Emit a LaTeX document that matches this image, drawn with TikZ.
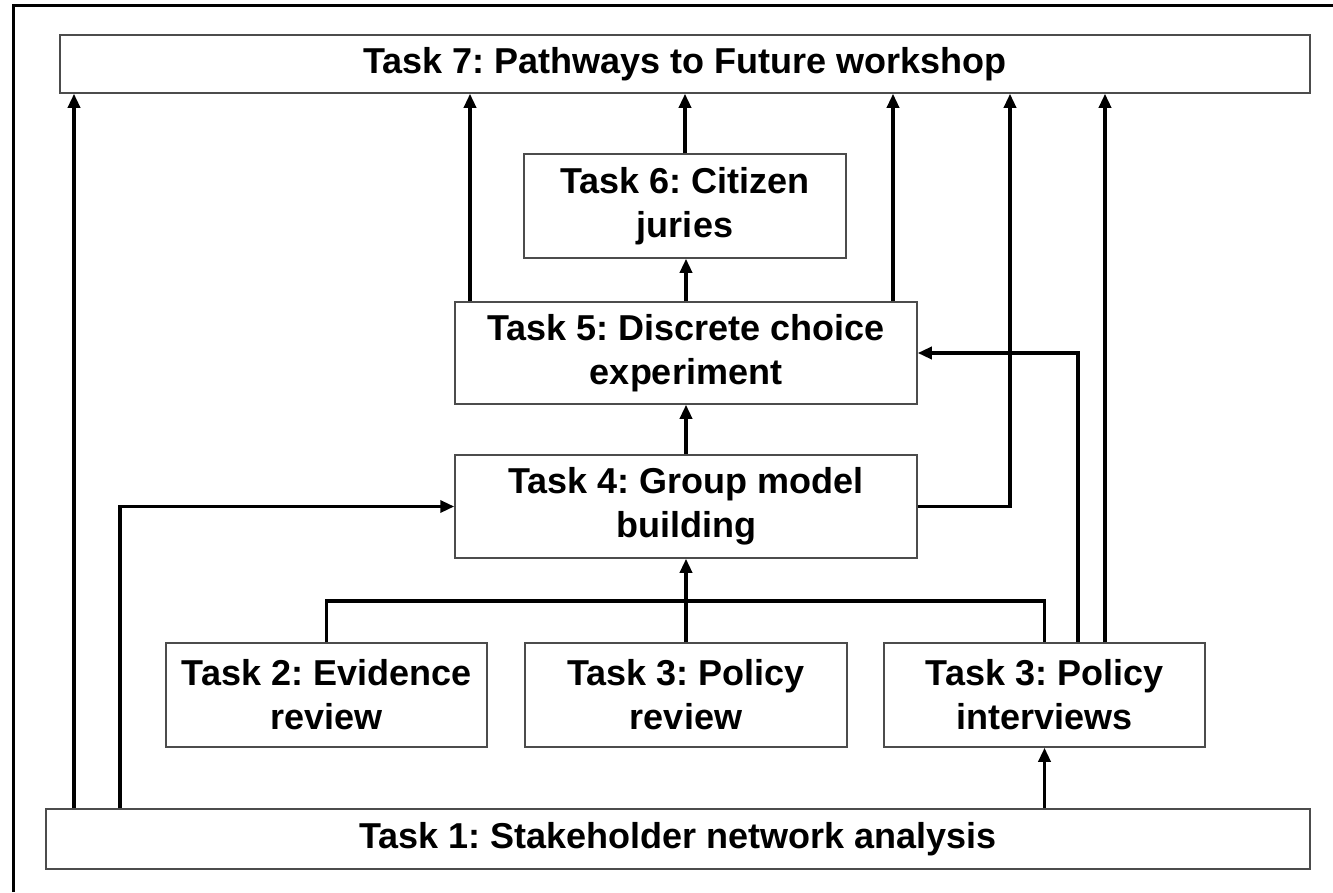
\documentclass[tikz,border=0pt]{standalone}
\usepackage{fontspec}
\setmainfont{Liberation Sans}
\usetikzlibrary{arrows.meta}
\frenchspacing
\begin{document}
\begin{tikzpicture}[x=1bp,y=-1bp,
  task/.style={draw=black!70,line width=1.5bp,fill=white,rectangle,inner sep=0pt,align=center,
    font=\frenchspacing\fontsize{36bp}{44bp}\selectfont\bfseries},
  link/.style={line width=3.3bp,black},
  arr/.style={link,-{Triangle[length=14bp,width=12bp]}}]
\useasboundingbox (0,0) rectangle (1333,892);
\fill[white] (0,0) rectangle (1333,892);
\draw[line width=3bp] (13,892) -- (13,5) -- (1333,5);
\node[task,minimum width=1250bp,minimum height=58bp] (t7) at (685,64) {Task 7: Pathways to Future workshop};
\node[task,minimum width=1264bp,minimum height=60bp] (t1) at (678,839) {Task 1: Stakeholder network analysis};
\node[task,minimum width=322bp,minimum height=104bp] (t6) at (685,206) {Task 6: Citizen\\juries};
\node[task,minimum width=462bp,minimum height=102bp] (t5) at (686,353) {Task 5: Discrete choice\\experiment};
\node[task,minimum width=462bp,minimum height=103bp] (t4) at (686,506.5) {Task 4: Group model\\building};
\node[task,minimum width=321bp,minimum height=104bp] (t2) at (326.5,695) {Task 2: Evidence\\review};
\node[task,minimum width=322bp,minimum height=104bp] (t3a) at (686,695) {Task 3: Policy\\review};
\node[task,minimum width=321bp,minimum height=104bp] (t3b) at (1044.5,695) {Task 3: Policy\\interviews};
\coordinate (xa) at (74,0);
\coordinate (xb) at (120,0);
\coordinate (xc) at (470,0);
\coordinate (xd) at (893,0);
\coordinate (xe) at (1010,0);
\coordinate (xf) at (1078,0);
\coordinate (xg) at (1105,0);
\coordinate (yb) at (0,601);
\draw[arr] (t1.north -| xa) -- (t7.south -| xa);
\draw[arr] (t1.north -| xb) |- (t4.west);
\draw[arr] (t5.north -| xc) -- (t7.south -| xc);
\draw[arr] (t5.north -| xd) -- (t7.south -| xd);
\draw[arr] (t6.north) -- (t7.south -| t6.north);
\draw[arr] (t5.north) -- (t5.north |- t6.south);
\draw[arr] (t4.north) -- (t5.south);
\draw[arr] (t3a.north) -- (t4.south);
\draw[link] (t2.north) |- (t3b.north |- yb) -- (t3b.north);
\draw[arr] (t4.east) -| (t7.south -| xe);
\draw[arr] (t3b.north -| xf) |- (t5.east);
\draw[arr] (t3b.north -| xg) -- (t7.south -| xg);
\draw[arr] (t1.north -| t3b.north) -- (t3b.south);
\end{tikzpicture}
\end{document}
